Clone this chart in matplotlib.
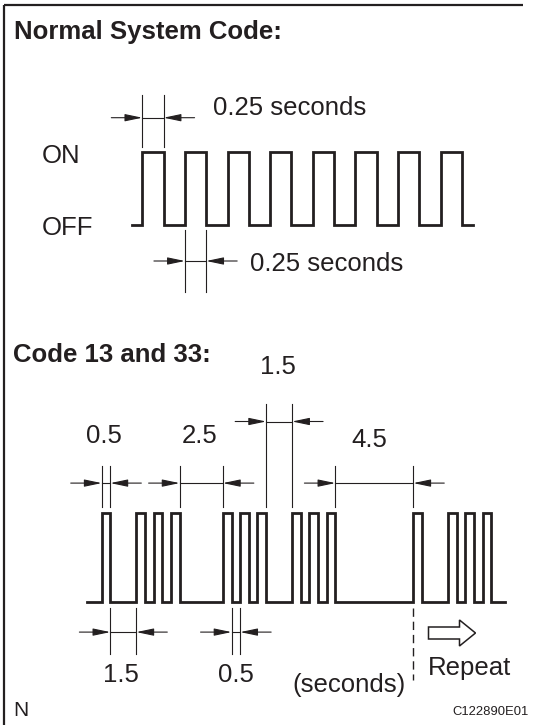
import matplotlib
matplotlib.use('Agg')
import matplotlib.pyplot as plt
import matplotlib.transforms as mtransforms
from matplotlib.patches import FancyArrow

plt.rcParams['font.family'] = ['Liberation Sans', 'DejaVu Sans']

# --- data (seconds) ---
normal_rise = [0.0, 0.5, 1.0, 1.5, 2.0, 2.5, 3.0, 3.5]
normal_on = 0.25
normal_span = (-0.12, 3.88)
normal_dims = [(0.0, 0.25), (0.5, 0.75)]
normal_dim_labels = ['0.25 seconds', '0.25 seconds']

code_rise = [0, 2, 3, 4, 7, 8, 9, 11, 12, 13, 18, 20, 21, 22]
code_on = 0.5
code_span = (-0.83, 23.27)
code_dims_top = [(0.0, 0.5), (4.5, 7.0), (9.5, 11.0), (13.5, 18.0)]
code_dims_top_labels = ['0.5', '2.5', '1.5', '4.5']
code_dims_bot = [(0.5, 2.0), (7.5, 8.0)]
code_dims_bot_labels = ['1.5', '0.5']
repeat_at = 18.0

W, H = 533, 725
FS = 18.5


def square_wave(rises, on, span):
    xs, ys = [span[0]], [0]
    for r in rises:
        xs += [r, r, r + on, r + on]
        ys += [0, 1, 1, 0]
    xs.append(span[1])
    ys.append(0)
    return xs, ys


fig = plt.figure(figsize=(W / 100, H / 100), dpi=100)
ax = fig.add_axes([0, 0, 1, 1])
ax.set_xlim(0, W)
ax.set_ylim(H, 0)
ax.axis('off')


def wave_axes(x0, xs, y0, ys):
    a = fig.add_axes([0, 0, 1, 1])
    a.axis('off')
    a.patch.set_visible(False)
    a.set_autoscale_on(False)
    a.set_xlim(-x0 / xs, (W - x0) / xs)
    a.set_ylim((y0 - H) / ys, y0 / ys)
    return a


def dimension(a, t1, t2, y_top, y_bot, y_arr, tail=22.3):
    tr = mtransforms.blended_transform_factory(a.transData, ax.transData)
    for t in (t1, t2):
        a.plot([t, t], [y_top, y_bot], transform=tr, color='#231f20', lw=0.8)
    a.plot([t1, t2], [y_arr, y_arr], transform=tr, color='#231f20', lw=0.8)
    style = '-|>,head_length=1.05,head_width=0.22'
    props = dict(arrowstyle=style, color='#231f20', lw=0.8,
                 shrinkA=0, shrinkB=0, mutation_scale=10)
    a.annotate('', xy=(t1, y_arr), xycoords=tr, xytext=(-tail, 0),
               textcoords='offset points', arrowprops=props)
    a.annotate('', xy=(t2, y_arr), xycoords=tr, xytext=(tail, 0),
               textcoords='offset points', arrowprops=props)


# frame (top and left only)
ax.plot([4, 523], [5, 5], color='#231f20', lw=1.6, solid_capstyle='butt')
ax.plot([4, 4], [5, H], color='#231f20', lw=1.6, solid_capstyle='butt')

# --- Normal system code ---
ax.text(14, 38.5, 'Normal System Code:', fontsize=FS, fontweight='bold',
        ha='left', va='baseline', color='#231f20')
ax.text(42, 163.3, 'ON', fontsize=FS, ha='left', va='baseline', color='#231f20')
ax.text(42, 235, 'OFF', fontsize=FS, ha='left', va='baseline', color='#231f20')

ax_n = wave_axes(142.3, 85.2, 225, 72.7)
xs, ys = square_wave(normal_rise, normal_on, normal_span)
ax_n.plot(xs, ys, color='#231f20', lw=2.0, solid_joinstyle='miter')
dimension(ax_n, *normal_dims[0], 95, 147, 117.7)
dimension(ax_n, *normal_dims[1], 230, 291.7, 261)
ax.text(212.6, 115, normal_dim_labels[0], fontsize=FS, ha='left',
        va='baseline', color='#231f20')
ax.text(250, 270.5, normal_dim_labels[1], fontsize=FS, ha='left',
        va='baseline', color='#231f20')

# --- Code 13 and 33 ---
ax.text(13, 362, 'Code 13 and 33:', fontsize=FS, fontweight='bold',
        ha='left', va='baseline', color='#231f20')

ax_c = wave_axes(101.7, 17.31, 602, 89.3)
xs, ys = square_wave(code_rise, code_on, code_span)
ax_c.plot(xs, ys, color='#231f20', lw=2.0, solid_joinstyle='miter')

top_y = [(466.2, 507, 483.1), (466.2, 507, 483.1),
         (404.3, 507, 421.5), (466.2, 507, 483.1)]
top_lbl = [(104, 443), (200, 442.5), (278, 374), (369, 446.5)]
for (t1, t2), (yt, yb, ya), lab, (lx, ly) in zip(code_dims_top, top_y,
                                                  code_dims_top_labels, top_lbl):
    dimension(ax_c, t1, t2, yt, yb, ya)
    ax.text(lx, ly, lab, fontsize=FS, ha='center', va='baseline', color='#231f20')

bot_lbl = [(121, 682.5), (235.6, 682.5)]
for (t1, t2), lab, (lx, ly) in zip(code_dims_bot, code_dims_bot_labels, bot_lbl):
    dimension(ax_c, t1, t2, 608, 654.3, 632.1)
    ax.text(lx, ly, lab, fontsize=FS, ha='center', va='baseline', color='#231f20')

tr = mtransforms.blended_transform_factory(ax_c.transData, ax.transData)
ax_c.plot([repeat_at, repeat_at], [608, 680], transform=tr, color='#231f20',
          lw=1.0, linestyle=(0, (6, 3.5)))

ax.add_patch(FancyArrow(428.5, 633, 47, 0, width=12, head_width=26,
                        head_length=16, length_includes_head=True,
                        fc='white', ec='#231f20', lw=1.1))
ax.text(428, 674.5, 'Repeat', fontsize=FS, ha='left', va='baseline', color='#231f20')
ax.text(349, 692, '(seconds)', fontsize=FS, ha='center', va='baseline', color='#231f20')

ax.text(13, 716.5, 'N', fontsize=15, ha='left', va='baseline', color='#231f20')
ax.text(529, 715, 'C122890E01', fontsize=9.4, ha='right', va='baseline', color='#231f20')

fig.savefig('out.png', dpi=100)
